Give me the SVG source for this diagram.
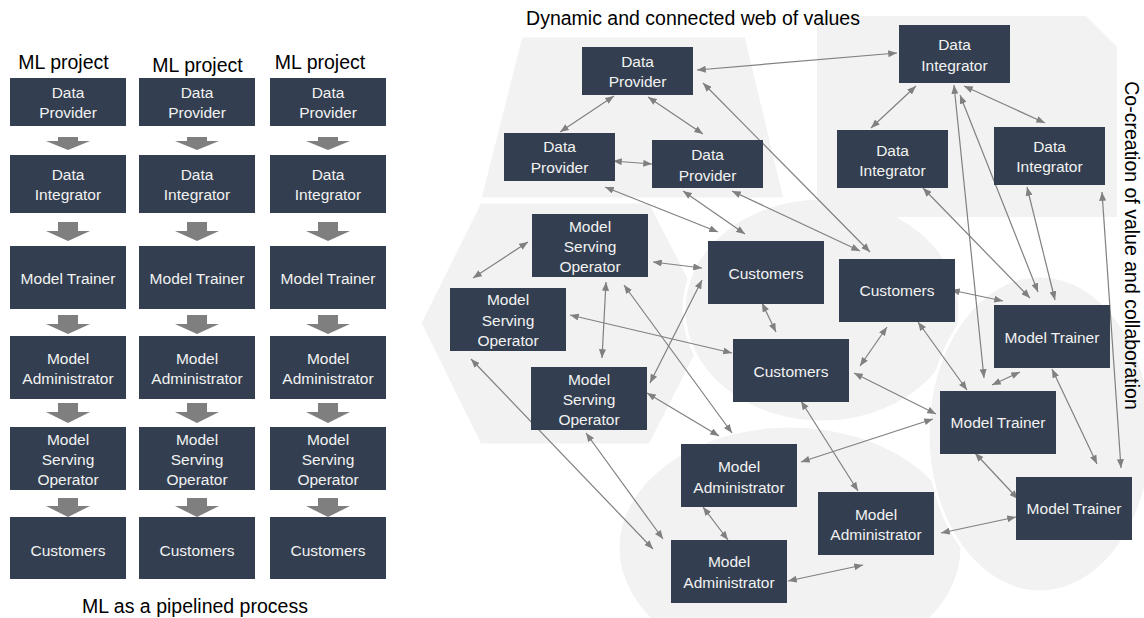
<svg xmlns="http://www.w3.org/2000/svg" width="1144" height="618" viewBox="0 0 1144 618">
<defs>
<style>
.bg{fill:#f2f2f2;stroke:#ffffff;stroke-width:3}
.bgn{fill:#f2f2f2}
.n rect{fill:#333f50}
.n text{fill:#f2f2f2;font-family:"Liberation Sans",Arial,sans-serif;font-size:15.5px;text-anchor:middle}
.t{font-family:"Liberation Sans",Arial,sans-serif;font-size:19.5px;fill:#000000;text-anchor:middle}
.ba{fill:#7f7f7f}
.c line{stroke:#808080;stroke-width:1.2;fill:none;marker-start:url(#ah);marker-end:url(#ah)}
</style>
<marker id="ah" viewBox="0 0 10 8" refX="10" refY="4" markerWidth="9" markerHeight="7" markerUnits="userSpaceOnUse" orient="auto-start-reverse">
<path d="M0,0 L10,4 L0,8 z" fill="#808080"/>
</marker>
</defs>
<rect width="1144" height="618" fill="#ffffff"/>
<g id="background">
<polygon class="bg" points="480,202 650,202 712,323 650,445 480,445 420,323"/>
<polygon class="bg" points="521,36 746,36 785,199 480,199"/>
<ellipse class="bg" cx="822" cy="310" rx="138" ry="112"/>
<polygon class="bgn" points="817,16 1086,16 1117,47 1117,217 817,217"/>
<ellipse class="bg" cx="790" cy="548" rx="172" ry="122"/>
<ellipse class="bg" cx="1040" cy="434" rx="112" ry="158"/>
</g>
<g id="titles">
<text class="t" x="63.5" y="69">ML project</text>
<text class="t" x="197.5" y="71.5">ML project</text>
<text class="t" x="320" y="69">ML project</text>
<text class="t" x="195" y="613">ML as a pipelined process</text>
<text class="t" x="693" y="25">Dynamic and connected web of values</text>
<text class="t" transform="translate(1125,245.5) rotate(90)">Co-creation of value and collaboration</text>
</g>
<g id="connectors">
<g id="pipeline-arrows">
<polygon class="ba" points="58,137 78,137 78,141 90,141 68,150 46,141 58,141"/>
<polygon class="ba" points="58,222 78,222 78,231 90,231 68,241 46,231 58,231"/>
<polygon class="ba" points="58,315 78,315 78,324 90,324 68,334 46,324 58,324"/>
<polygon class="ba" points="58,403 78,403 78,412 90,412 68,423 46,412 58,412"/>
<polygon class="ba" points="58,498 78,498 78,506 90,506 68,517 46,506 58,506"/>
<polygon class="ba" points="187,137 207,137 207,141 219,141 197,150 175,141 187,141"/>
<polygon class="ba" points="187,222 207,222 207,231 219,231 197,241 175,231 187,231"/>
<polygon class="ba" points="187,315 207,315 207,324 219,324 197,334 175,324 187,324"/>
<polygon class="ba" points="187,403 207,403 207,412 219,412 197,423 175,412 187,412"/>
<polygon class="ba" points="187,498 207,498 207,506 219,506 197,517 175,506 187,506"/>
<polygon class="ba" points="318,137 338,137 338,141 350,141 328,150 306,141 318,141"/>
<polygon class="ba" points="318,222 338,222 338,231 350,231 328,241 306,231 318,231"/>
<polygon class="ba" points="318,315 338,315 338,324 350,324 328,334 306,324 318,324"/>
<polygon class="ba" points="318,403 338,403 338,412 350,412 328,423 306,412 318,412"/>
<polygon class="ba" points="318,498 338,498 338,506 350,506 328,517 306,506 318,506"/>
</g>
<g class="c" id="web-links">
<line x1="697" y1="70" x2="897" y2="53"/>
<line x1="614" y1="96" x2="560" y2="132"/>
<line x1="648" y1="97" x2="703" y2="134"/>
<line x1="613" y1="161" x2="652" y2="164"/>
<line x1="703" y1="83" x2="870" y2="252"/>
<line x1="605" y1="187" x2="718" y2="232"/>
<line x1="683" y1="191" x2="745" y2="234"/>
<line x1="732" y1="191" x2="860" y2="251"/>
<line x1="916" y1="86" x2="871" y2="128"/>
<line x1="964" y1="86" x2="1045" y2="123"/>
<line x1="954" y1="85" x2="984" y2="378"/>
<line x1="923" y1="188" x2="1030" y2="298"/>
<line x1="960" y1="95" x2="1038" y2="292"/>
<line x1="1027" y1="187" x2="1055" y2="300"/>
<line x1="1102" y1="192" x2="1121" y2="468"/>
<line x1="1052" y1="369" x2="1097" y2="464"/>
<line x1="528" y1="242" x2="473" y2="278"/>
<line x1="653" y1="262" x2="702" y2="268"/>
<line x1="606" y1="282" x2="602" y2="358"/>
<line x1="702" y1="280" x2="650" y2="383"/>
<line x1="570" y1="315" x2="732" y2="353"/>
<line x1="762" y1="303" x2="776" y2="332"/>
<line x1="624" y1="285" x2="732" y2="433"/>
<line x1="647" y1="393" x2="719" y2="436"/>
<line x1="471" y1="359" x2="653" y2="549"/>
<line x1="586" y1="433" x2="663" y2="539"/>
<line x1="951" y1="290" x2="1003" y2="301"/>
<line x1="887" y1="327" x2="860" y2="366"/>
<line x1="918" y1="322" x2="967" y2="390"/>
<line x1="992" y1="385" x2="1020" y2="372"/>
<line x1="854" y1="373" x2="936" y2="414"/>
<line x1="801" y1="401" x2="858" y2="491"/>
<line x1="933" y1="419" x2="801" y2="462"/>
<line x1="975" y1="453" x2="1018" y2="499"/>
<line x1="941" y1="533" x2="1016" y2="517"/>
<line x1="703" y1="507" x2="728" y2="540"/>
<line x1="788" y1="581" x2="863" y2="565"/>
</g>
</g>
<g id="p1-provider" class="n"><rect x="10" y="78" width="116" height="48"/><text x="68" y="98">Data</text><text x="68" y="118">Provider</text></g>
<g id="p1-integrator" class="n"><rect x="10" y="155" width="116" height="58"/><text x="68" y="180">Data</text><text x="68" y="200">Integrator</text></g>
<g id="p1-trainer" class="n"><rect x="10" y="246" width="116" height="63"/><text x="68" y="283.5">Model Trainer</text></g>
<g id="p1-admin" class="n"><rect x="10" y="336" width="116" height="63"/><text x="68" y="363.5">Model</text><text x="68" y="383.5">Administrator</text></g>
<g id="p1-serving" class="n"><rect x="10" y="427" width="116" height="63"/><text x="68" y="444.5">Model</text><text x="68" y="464.5">Serving</text><text x="68" y="484.5">Operator</text></g>
<g id="p1-customers" class="n"><rect x="10" y="517" width="116" height="62"/><text x="68" y="555.5">Customers</text></g>
<g id="p2-provider" class="n"><rect x="139" y="78" width="116" height="48"/><text x="197" y="98">Data</text><text x="197" y="118">Provider</text></g>
<g id="p2-integrator" class="n"><rect x="139" y="155" width="116" height="58"/><text x="197" y="180">Data</text><text x="197" y="200">Integrator</text></g>
<g id="p2-trainer" class="n"><rect x="139" y="246" width="116" height="63"/><text x="197" y="283.5">Model Trainer</text></g>
<g id="p2-admin" class="n"><rect x="139" y="336" width="116" height="63"/><text x="197" y="363.5">Model</text><text x="197" y="383.5">Administrator</text></g>
<g id="p2-serving" class="n"><rect x="139" y="427" width="116" height="63"/><text x="197" y="444.5">Model</text><text x="197" y="464.5">Serving</text><text x="197" y="484.5">Operator</text></g>
<g id="p2-customers" class="n"><rect x="139" y="517" width="116" height="62"/><text x="197" y="555.5">Customers</text></g>
<g id="p3-provider" class="n"><rect x="270" y="78" width="116" height="48"/><text x="328" y="98">Data</text><text x="328" y="118">Provider</text></g>
<g id="p3-integrator" class="n"><rect x="270" y="155" width="116" height="58"/><text x="328" y="180">Data</text><text x="328" y="200">Integrator</text></g>
<g id="p3-trainer" class="n"><rect x="270" y="246" width="116" height="63"/><text x="328" y="283.5">Model Trainer</text></g>
<g id="p3-admin" class="n"><rect x="270" y="336" width="116" height="63"/><text x="328" y="363.5">Model</text><text x="328" y="383.5">Administrator</text></g>
<g id="p3-serving" class="n"><rect x="270" y="427" width="116" height="63"/><text x="328" y="444.5">Model</text><text x="328" y="464.5">Serving</text><text x="328" y="484.5">Operator</text></g>
<g id="p3-customers" class="n"><rect x="270" y="517" width="116" height="62"/><text x="328" y="555.5">Customers</text></g>
<g id="w-dp1" class="n"><rect x="582" y="47" width="111" height="48"/><text x="637.5" y="66.5">Data</text><text x="637.5" y="87">Provider</text></g>
<g id="w-dp2" class="n"><rect x="504" y="133" width="111" height="48"/><text x="559.5" y="152">Data</text><text x="559.5" y="173">Provider</text></g>
<g id="w-dp3" class="n"><rect x="652" y="140" width="111" height="48"/><text x="707.5" y="159.5">Data</text><text x="707.5" y="180.5">Provider</text></g>
<g id="w-di1" class="n"><rect x="899" y="25" width="111" height="58"/><text x="954.5" y="49.5">Data</text><text x="954.5" y="70.5">Integrator</text></g>
<g id="w-di2" class="n"><rect x="837" y="130" width="111" height="58"/><text x="892.5" y="155.5">Data</text><text x="892.5" y="175.5">Integrator</text></g>
<g id="w-di3" class="n"><rect x="994" y="127" width="111" height="58"/><text x="1049.5" y="151.5">Data</text><text x="1049.5" y="172">Integrator</text></g>
<g id="w-mso1" class="n"><rect x="532" y="214" width="116" height="63"/><text x="590" y="231.5">Model</text><text x="590" y="251.5">Serving</text><text x="590" y="272">Operator</text></g>
<g id="w-mso2" class="n"><rect x="450" y="288" width="116" height="63"/><text x="508" y="304.5">Model</text><text x="508" y="325.5">Serving</text><text x="508" y="345.5">Operator</text></g>
<g id="w-mso3" class="n"><rect x="531" y="367" width="116" height="63"/><text x="589" y="384.5">Model</text><text x="589" y="404.5">Serving</text><text x="589" y="424.5">Operator</text></g>
<g id="w-cust1" class="n"><rect x="708" y="241" width="116" height="63"/><text x="766" y="278.5">Customers</text></g>
<g id="w-cust2" class="n"><rect x="839" y="259" width="116" height="63"/><text x="897" y="296">Customers</text></g>
<g id="w-cust3" class="n"><rect x="733" y="339" width="116" height="63"/><text x="791" y="376.5">Customers</text></g>
<g id="w-mt1" class="n"><rect x="994" y="305" width="116" height="63"/><text x="1052" y="342.5">Model Trainer</text></g>
<g id="w-mt2" class="n"><rect x="940" y="391" width="116" height="63"/><text x="998" y="428">Model Trainer</text></g>
<g id="w-mt3" class="n"><rect x="1016" y="477" width="116" height="63"/><text x="1074" y="514">Model Trainer</text></g>
<g id="w-ma1" class="n"><rect x="681" y="444" width="116" height="63"/><text x="739" y="472">Model</text><text x="739" y="493">Administrator</text></g>
<g id="w-ma2" class="n"><rect x="818" y="492" width="116" height="63"/><text x="876" y="519.5">Model</text><text x="876" y="539.5">Administrator</text></g>
<g id="w-ma3" class="n"><rect x="671" y="540" width="116" height="63"/><text x="729" y="567">Model</text><text x="729" y="588">Administrator</text></g>
</svg>
